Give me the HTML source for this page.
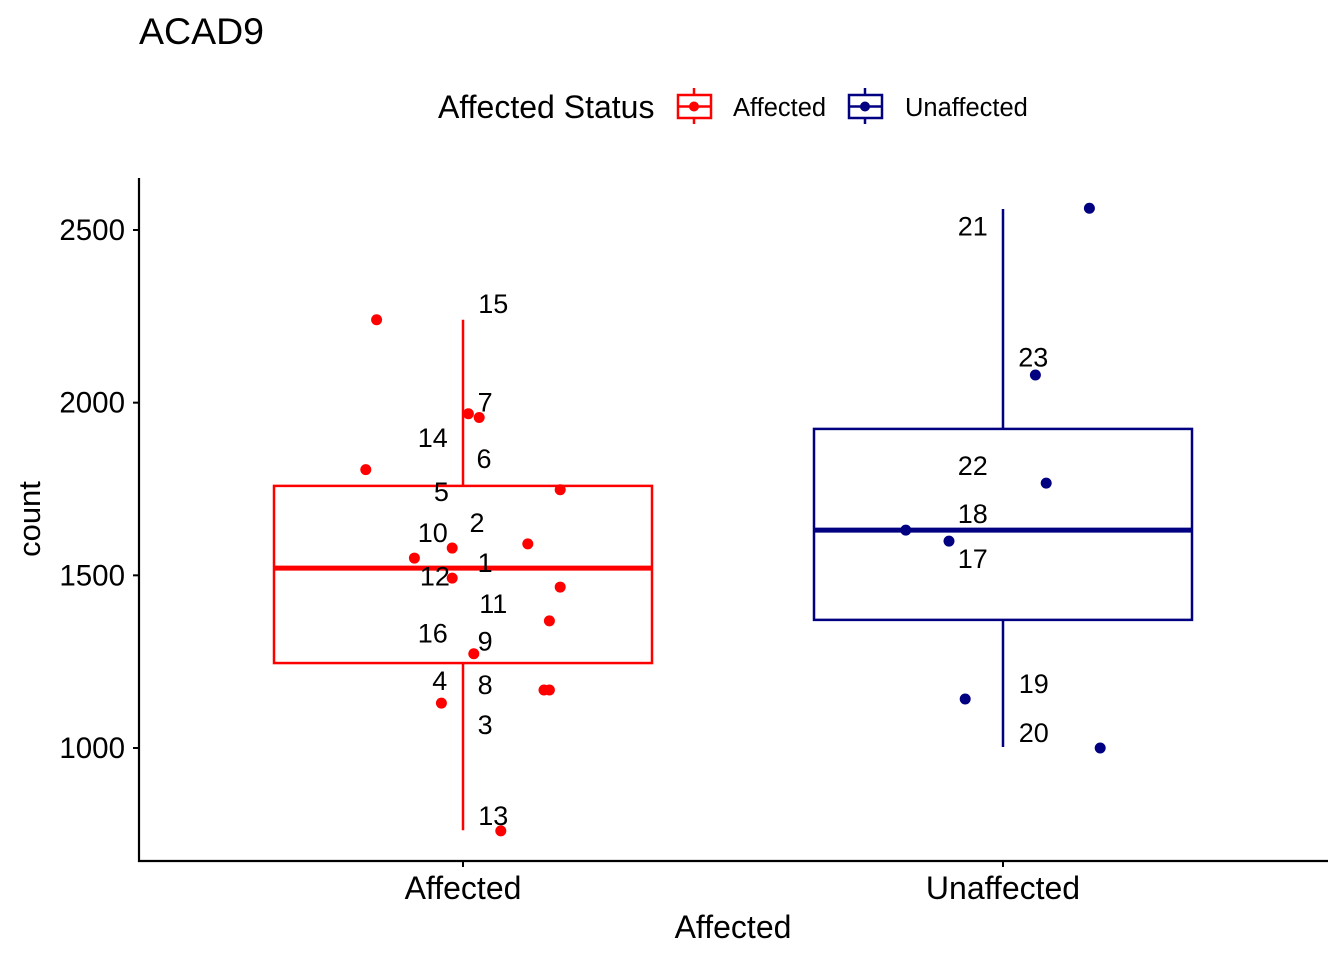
<!DOCTYPE html>
<html><head><meta charset="utf-8"><style>
body{margin:0;background:#fff}
svg{display:block;font-family:"Liberation Sans",Arial,sans-serif}
</style></head><body>
<svg id="chart" width="1344" height="960">
<text x="139" y="44" font-size="37.5">ACAD9</text>
<g>
<text x="438" y="118" font-size="32">Affected Status</text>
<g>
<line x1="694" y1="88" x2="694" y2="124" stroke="#f00" stroke-width="2.5"/>
<rect x="678" y="95" width="33" height="23" fill="#fff" stroke="#f00" stroke-width="2.5"/>
<line x1="678" y1="106.5" x2="711" y2="106.5" stroke="#f00" stroke-width="2.5"/>
<circle cx="694" cy="106.5" r="5" fill="#f00"/>
<text x="733" y="116" font-size="25.5">Affected</text></g>
<g>
<line x1="865" y1="88" x2="865" y2="124" stroke="#000080" stroke-width="2.5"/>
<rect x="849" y="95" width="33" height="23" fill="#fff" stroke="#000080" stroke-width="2.5"/>
<line x1="849" y1="106.5" x2="882" y2="106.5" stroke="#000080" stroke-width="2.5"/>
<circle cx="865" cy="106.5" r="5" fill="#000080"/>
<text x="905" y="116" font-size="25.5">Unaffected</text></g>
</g>
<g id="plot"></g>
</svg>
<script>
const categories=["Affected","Unaffected"];
const colors=["#ff0000","#000080"];
const boxQ1=[1246,1371];
const boxMedian=[1521,1631];
const boxQ3=[1759,1924];
const whiskerLow=[762,1003];
const whiskerHigh=[2240,2561];
const affectedValues=[2240,1968,1957,1806,1748,1591,1579,1550,1492,1466,1368,1273,1168,1168,1130,760];
const affectedJitter=[-0.16,0.01,0.03,-0.18,0.18,0.12,-0.02,-0.09,-0.02,0.18,0.16,0.02,0.15,0.16,-0.04,0.07];
const unaffectedValues=[2563,2080,1767,1631,1599,1142,1000];
const unaffectedJitter=[0.16,0.06,0.08,-0.18,-0.1,-0.07,0.18];
const affectedLabels=["15","7","14","6","5","2","10","1","12","11","16","9","4","8","3","13"];
const affectedLabelValues=[2289,2003,1900,1840,1744,1654,1625,1539,1500,1420,1335,1312,1197,1185,1070,806];
const affectedLabelOffsets=[0.056,0.041,-0.056,0.039,-0.04,0.026,-0.056,0.041,-0.052,0.056,-0.056,0.041,-0.043,0.041,0.041,0.056];
const unaffectedLabels=["21","23","22","18","17","19","20"];
const unaffectedLabelValues=[2513,2133,1820,1680,1550,1188,1046];
const unaffectedLabelOffsets=[-0.056,0.056,-0.056,-0.056,-0.056,0.057,0.057];
const yTicks=[1000,1500,2000,2500];

const NS="http://www.w3.org/2000/svg";
const g=document.getElementById("plot");
const y=v=>748-(v-1000)*0.34533;
const xc=i=>463+i*540;
const xj=(i,j)=>xc(i)+j*540;
function el(t,a,p){const e=document.createElementNS(NS,t);for(const k in a)e.setAttribute(k,a[k]);(p||g).appendChild(e);return e;}

const ax=el("line",{x1:139,y1:178,x2:139,y2:862,stroke:"#000","stroke-width":2.2});


const bx=el("line",{x1:138,y1:861,x2:1328,y2:861,stroke:"#000","stroke-width":2.2});


yTicks.forEach(v=>{
  el("line",{x1:133,x2:139,y1:y(v),y2:y(v),stroke:"#000","stroke-width":2});
  const t=el("text",{x:125,y:y(v)+10,"text-anchor":"end","font-size":29.5});t.textContent=v;
  
  
});
categories.forEach((c,i)=>{
  el("line",{x1:xc(i),x2:xc(i),y1:861,y2:867,stroke:"#000","stroke-width":2});
  const t=el("text",{x:xc(i),y:899,"text-anchor":"middle","font-size":32});t.textContent=c;
  
  
});
const xt=el("text",{x:733,y:938,"text-anchor":"middle","font-size":32});xt.textContent="Affected";


const yt=el("text",{x:40,y:519,"text-anchor":"middle","font-size":31,transform:"rotate(-90 40 519)"});yt.textContent="count";



categories.forEach((c,i)=>{
  const grp=el("g",{});
  
  
  const col=colors[i],hw=189;
  el("line",{x1:xc(i),x2:xc(i),y1:y(whiskerHigh[i]),y2:y(boxQ3[i]),stroke:col,"stroke-width":2.5},grp);
  el("line",{x1:xc(i),x2:xc(i),y1:y(boxQ1[i]),y2:y(whiskerLow[i]),stroke:col,"stroke-width":2.5},grp);
  el("rect",{x:xc(i)-hw,y:y(boxQ3[i]),width:2*hw,height:y(boxQ1[i])-y(boxQ3[i]),fill:"none",stroke:col,"stroke-width":2.5},grp);
  el("line",{x1:xc(i)-hw,x2:xc(i)+hw,y1:y(boxMedian[i]),y2:y(boxMedian[i]),stroke:col,"stroke-width":5},grp);
});
function drawSeries(ci,vals,jit,labels,lv,lo){
  vals.forEach((v,k)=>{
    const p=el("circle",{cx:xj(ci,jit[k]),cy:y(v),r:5.5,fill:colors[ci]});
    
    
  });
  labels.forEach((l,k)=>{
    const t=el("text",{x:xj(ci,lo[k]),y:y(lv[k])+10,"text-anchor":"middle","font-size":27});
    t.textContent=l;
    
    
  });
}
drawSeries(0,affectedValues,affectedJitter,affectedLabels,affectedLabelValues,affectedLabelOffsets);
drawSeries(1,unaffectedValues,unaffectedJitter,unaffectedLabels,unaffectedLabelValues,unaffectedLabelOffsets);
</script>
</body></html>
